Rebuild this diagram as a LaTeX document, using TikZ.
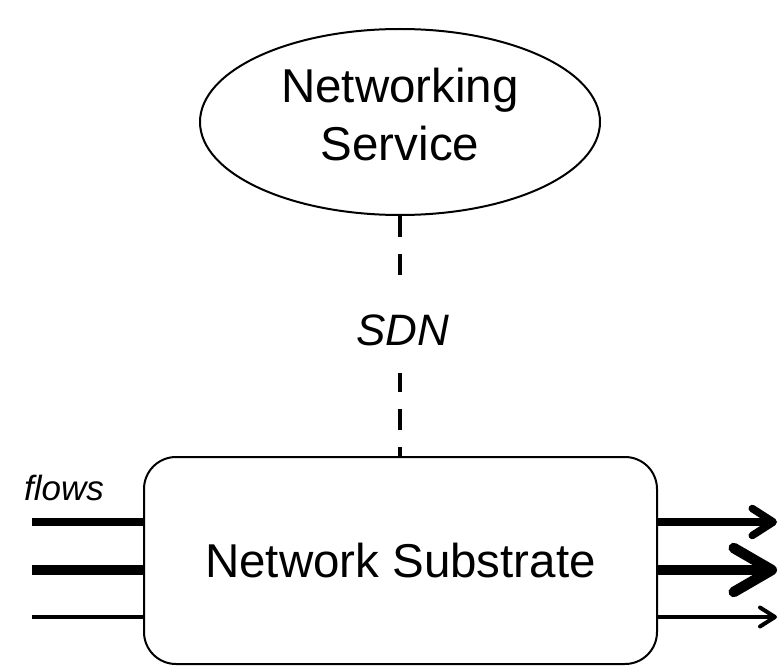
\documentclass[tikz,border=0pt]{standalone}
\usepackage{fontspec}
\setmainfont{Liberation Sans}
\usetikzlibrary{arrows.meta,shapes.geometric}

\tikzset{
  outline/.style={draw=black, line width=2pt},
  service/.style={outline, ellipse, minimum width=400pt, minimum height=186pt,
    align=center, font=\fontsize{47.5}{58}\selectfont, text depth=16pt, inner sep=0pt},
  substrate/.style={outline, rectangle, rounded corners=32pt,
    minimum width=513pt, minimum height=207pt, font=\fontsize{47.5}{56}\selectfont},
  control/.style={draw=black, line width=4pt, dash pattern=on 21pt off 17pt},
  ilabel/.style={font=\fontsize{44}{52}\selectfont\itshape, inner sep=0pt},
  flowlabel/.style={font=\fontsize{35}{42}\selectfont\itshape, inner sep=0pt},
  flowthin/.style={line width=4pt},
  flowmid/.style={line width=7.5pt},
  flowthick/.style={line width=10.5pt},
}

\begin{document}
\begin{tikzpicture}[x=1pt, y=-1pt]
  \useasboundingbox (0,0) rectangle (779,666);

  % service on top, substrate below
  \node[service] (ns) at (400,122) {Networking\\Service};
  \node[substrate] (sub) at (400.5,560.5) {Network Substrate};

  % SDN control link between them
  \node[ilabel, minimum height=86pt] (sdn) at (403,330) {SDN};
  \draw[control] (ns.south) -- (sdn.north -| ns.south);
  \draw[control, dash phase=2pt] (sdn.south -| ns.south) -- (sub.north -| ns.south);

  % incoming flows
  \node[flowlabel, anchor=base] (flows) at (64,500) {flows};
  \coordinate (in1) at (32,522);
  \coordinate (in2) at (32,570);
  \coordinate (in3) at (32,617);
  \draw[flowmid]   (in1) -- (in1 -| sub.west);
  \draw[flowthick] (in2) -- (in2 -| sub.west);
  \draw[flowthin]  (in3) -- (in3 -| sub.west);

  % outgoing flows
  \coordinate (out1) at (777,522);
  \coordinate (out2) at (777,570);
  \coordinate (out3) at (777,617);
  \draw[flowmid, -{Straight Barb[length=21pt, width=27pt, round]}]
    (out1 -| sub.east) -- (out1);
  \draw[flowthick, -{Straight Barb[length=38pt, width=44pt, round]}]
    (out2 -| sub.east) -- (out2);
  \draw[flowthin, -{Straight Barb[length=15pt, width=19pt, round]}]
    (out3 -| sub.east) -- (out3);
\end{tikzpicture}
\end{document}
